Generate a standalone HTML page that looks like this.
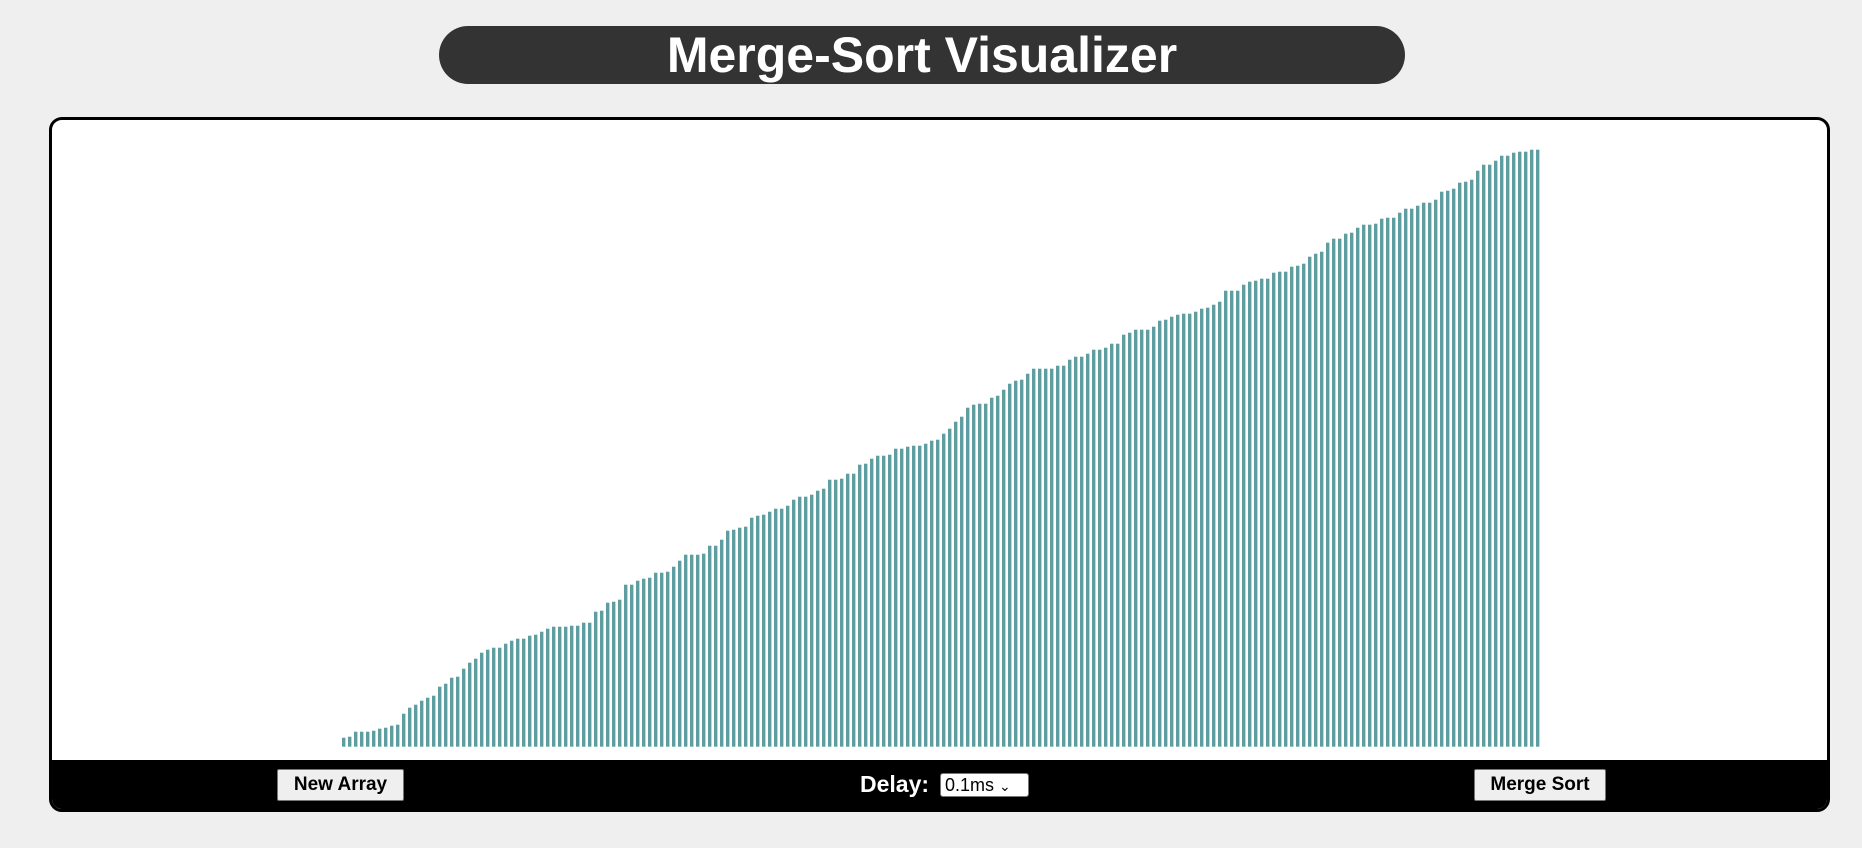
<!DOCTYPE html>
<html><head><meta charset="utf-8">
<style>
html,body{margin:0;padding:0;width:1862px;height:848px;overflow:hidden;background:#efefef;font-family:"Liberation Sans",sans-serif;}
#title{position:absolute;left:439px;top:26px;width:966px;height:58px;background:#333;border-radius:29px;color:#fff;text-align:center;font-weight:bold;font-size:50px;line-height:58px;}
#box{position:absolute;left:49px;top:117px;width:1775px;height:689px;border:3px solid #000;border-radius:13px;background:#fff;overflow:hidden;}
#controls{position:absolute;left:0;top:640px;width:1775px;height:49px;background:#000;}
.btn{position:absolute;top:9px;height:32px;background:#efefef;border:1px solid #767676;border-radius:2px;font-weight:bold;font-size:19px;font-family:"Liberation Sans",sans-serif;color:#000;padding:0;}
#delay-label{position:absolute;left:808px;top:8px;color:#fff;font-weight:bold;font-size:23px;line-height:32px;}
#delay-select{position:absolute;left:888px;top:13px;width:89px;height:24px;background:#fff;border:1px solid #767676;border-radius:3px;font-size:18px;line-height:22px;padding-left:4px;box-sizing:border-box;}
</style></head>
<body>
<div id="title">Merge-Sort Visualizer</div>
<div id="box">
<svg id="bars" width="1775" height="640" style="position:absolute;left:0;top:0"></svg>
<div id="controls">
<button class="btn" style="left:225px;width:127px">New Array</button>
<span id="delay-label">Delay:</span>
<div id="delay-select">0.1ms <span style="font-size:14px">&#8964;</span></div>
<button class="btn" style="left:1422px;width:132px">Merge Sort</button>
</div>
</div>
<script>
const values = [9,10,15,15,15,16,18,19,21,22,33,39,42,46,49,51,60,63,69,70,78,84,88,94,97,99,99,103,106,108,108,111,112,115,118,120,120,120,121,121,124,124,135,136,144,145,147,162,
162,166,168,169,174,174,175,180,186,192,192,192,193,201,201,207,216,217,219,220,229,231,232,235,238,238,241,247,250,250,252,256,258,267,267,268,273,273,282,283,288,291,291,292,298,298,300,301,301,303,
306,307,313,318,325,330,339,342,343,343,349,351,357,363,366,367,373,378,378,378,378,381,381,387,390,390,393,397,397,399,403,403,412,414,417,417,417,420,426,427,430,432,433,433,435,438,439,442,445,456,
456,456,462,465,466,468,468,474,475,475,480,481,483,490,493,495,504,508,508,513,514,519,522,522,523,528,529,529,534,538,538,541,544,544,547,555,556,558,564,565,567,576,582,582,586,591,591,594,595,595,597,597];
const svg = document.getElementById('bars');
const x0 = 342 - 52, step = 6, barW = 3.4, baseY = 746.7 - 120;
function xPos(i){ return x0 + i*step; }
function yPos(v){ return baseY - v; }
values.forEach((v,i)=>{
  const r = document.createElementNS('http://www.w3.org/2000/svg','rect');
  r.setAttribute('x', xPos(i));
  r.setAttribute('y', yPos(v));
  r.setAttribute('width', barW);
  r.setAttribute('height', v);
  r.setAttribute('fill', '#5f9ea0');
  
  
  svg.appendChild(r);
});
</script>
</body></html>
